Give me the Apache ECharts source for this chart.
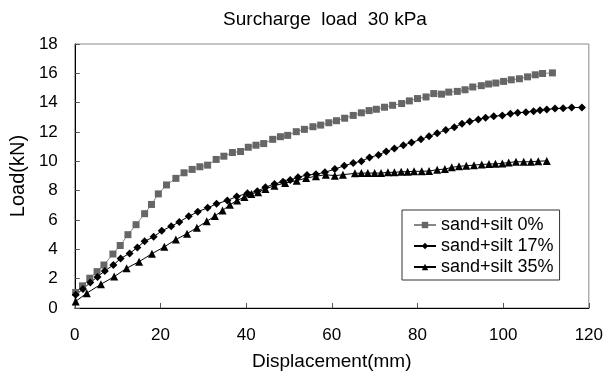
<!DOCTYPE html>
<html><head><meta charset="utf-8">
<script src="https://cdn.jsdelivr.net/npm/echarts@6/dist/echarts.min.js"></script>
<style>html,body{margin:0;padding:0;background:#fff}#c{width:606px;height:376px}</style>
</head><body><div id="c"></div>
<script>
const seriesNames = ['sand+silt 0%', 'sand+silt 17%', 'sand+silt 35%'];
const xTicks = [0, 20, 40, 60, 80, 100, 120];
const yTicks = [0, 2, 4, 6, 8, 10, 12, 14, 16, 18];
const silt0 = [[0.2,1.06],[1.8,1.51],[3.5,2.03],[5.2,2.48],[6.8,2.93],[8.9,3.68],[10.6,4.26],[12.4,5.0],[14.3,5.68],[16.3,6.43],[17.9,7.06],[19.5,7.78],[21.4,8.39],[23.6,8.84],[25.5,9.22],[27.4,9.45],[29.2,9.63],[31.0,9.74],[33.0,10.13],[34.8,10.35],[36.8,10.6],[38.7,10.67],[40.5,10.96],[42.3,11.1],[44.1,11.21],[46.2,11.5],[48.0,11.68],[49.7,11.77],[51.7,12.02],[53.6,12.18],[55.6,12.36],[57.4,12.47],[59.3,12.63],[61.1,12.77],[63.0,12.94],[65.0,13.13],[66.9,13.31],[68.7,13.46],[70.4,13.55],[72.3,13.69],[74.2,13.82],[76.3,13.94],[78.1,14.12],[80.0,14.28],[82.0,14.39],[83.8,14.62],[85.6,14.58],[87.3,14.72],[89.3,14.77],[91.1,14.88],[92.9,15.07],[94.9,15.16],[96.6,15.27],[98.3,15.34],[100.1,15.45],[101.9,15.56],[103.8,15.63],[105.7,15.76],[107.5,15.9],[109.2,15.99],[111.5,16.03]];
const silt17 = [[0.2,0.9],[1.9,1.29],[3.6,1.74],[5.3,2.12],[7.0,2.53],[9.0,2.93],[10.7,3.38],[12.8,3.72],[14.6,4.13],[16.3,4.55],[18.4,4.85],[20.3,5.26],[22.5,5.57],[24.4,5.87],[26.6,6.25],[28.7,6.56],[31.0,6.83],[33.1,7.1],[35.6,7.33],[37.8,7.6],[40.3,7.83],[42.6,7.96],[44.5,8.23],[46.6,8.46],[48.6,8.61],[50.3,8.73],[52.1,8.91],[54.2,9.07],[56.3,9.12],[58.4,9.25],[60.7,9.47],[62.9,9.7],[65.0,9.88],[66.9,10.01],[68.8,10.26],[70.9,10.44],[72.7,10.67],[74.6,10.87],[76.7,11.1],[78.6,11.28],[80.8,11.5],[82.7,11.71],[84.6,11.91],[86.6,12.13],[88.6,12.33],[90.4,12.56],[92.2,12.72],[94.2,12.86],[95.9,12.97],[97.8,13.08],[99.8,13.13],[101.7,13.24],[103.4,13.31],[105.3,13.35],[107.1,13.42],[108.6,13.48],[110.2,13.53],[112.1,13.6],[114.0,13.62],[116.0,13.67],[118.4,13.67]];
const silt35 = [[0.2,0.45],[2.8,1.01],[6.1,1.62],[9.2,2.14],[12.1,2.71],[15.0,3.16],[18.0,3.7],[20.9,4.17],[23.6,4.67],[26.2,5.07],[28.5,5.48],[30.8,5.91],[32.7,6.27],[34.5,6.65],[36.2,7.04],[37.9,7.33],[39.6,7.56],[41.2,7.78],[42.8,7.9],[44.5,8.12],[46.6,8.34],[49.1,8.52],[51.8,8.68],[54.0,8.86],[56.3,8.98],[58.6,9.09],[60.7,9.02],[62.6,9.09],[65.4,9.18],[66.9,9.2],[68.4,9.2],[70.0,9.2],[71.5,9.2],[73.1,9.25],[74.6,9.25],[76.2,9.29],[77.7,9.29],[79.2,9.32],[81.0,9.32],[82.7,9.34],[84.6,9.43],[86.4,9.47],[88.0,9.59],[89.7,9.66],[91.4,9.7],[93.2,9.74],[95.0,9.79],[96.7,9.81],[98.2,9.83],[99.8,9.86],[101.3,9.92],[103.0,9.97],[104.8,9.97],[106.5,9.97],[108.2,10.01],[110.2,10.03]];

const FONT = 'Liberation Sans';
const NARROW = '"Liberation Sans Narrow", "Liberation Sans"';
const chart = echarts.init(document.getElementById('c'));
const mk = (name, data, sym, size, color, lineColor) => ({
  name, type: 'line', data, symbol: sym, symbolSize: size,
  lineStyle: { color: lineColor, width: 1 }, itemStyle: { color },
  showSymbol: true, animation: false
});
chart.setOption({
  animation: false,
  title: { text: 'Surcharge  load  30 kPa', left: 320, top: 5, textAlign: 'center',
    textStyle: { fontFamily: FONT, fontSize: 19, fontWeight: 'normal', color: '#000' } },
  grid: { left: 73, right: 15, top: 44, bottom: 66, show: true, borderColor: '#888', borderWidth: 1, backgroundColor: 'transparent' },
  legend: {
    data: seriesNames, orient: 'vertical', left: 402, top: 210, itemGap: 3,
    itemWidth: 22, itemHeight: 8, padding: [6, 6, 4, 11],
    borderColor: '#333', borderWidth: 1, borderRadius: 0,
    textStyle: { fontFamily: FONT, fontSize: 18, color: '#000' }
  },
  xAxis: {
    type: 'value', min: 0, max: 120, interval: 20,
    name: 'Displacement(mm)', nameLocation: 'middle', nameGap: 44,
    nameTextStyle: { fontFamily: FONT, fontSize: 19, color: '#000' },
    axisLine: { lineStyle: { color: '#000' } },
    axisTick: { inside: true, length: 5, lineStyle: { color: '#555' } },
    axisLabel: { fontFamily: NARROW, fontSize: 17, color: '#000', margin: 19,
      formatter: v => xTicks.includes(v) ? String(v) : '' },
    splitLine: { show: false }
  },
  yAxis: {
    type: 'value', min: 0, max: 18, interval: 2,
    name: 'Load(kN)', nameLocation: 'middle', nameGap: 41,
    nameTextStyle: { fontFamily: FONT, fontSize: 20, color: '#000' },
    axisLine: { show: true, lineStyle: { color: '#000' } },
    axisTick: { show: true, inside: true, length: 5, lineStyle: { color: '#555' } },
    axisLabel: { fontFamily: NARROW, fontSize: 17, color: '#000', margin: 17,
      formatter: v => yTicks.includes(v) ? String(v) : '' },
    splitLine: { show: false }
  },
  series: [
    mk(seriesNames[0], silt0, 'rect', 7, '#666', '#888'),
    mk(seriesNames[1], silt17, 'diamond', 8, '#000', '#000'),
    mk(seriesNames[2], silt35, 'triangle', 8, '#000', '#000')
  ]
});
</script></body></html>
